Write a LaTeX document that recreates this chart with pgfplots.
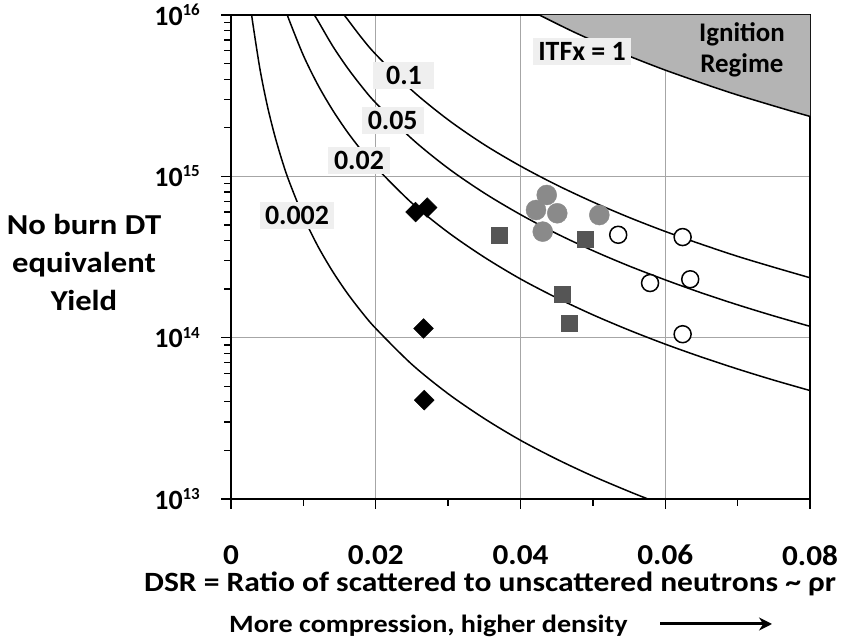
\documentclass[border=0pt]{standalone}
\usepackage{fontspec}
\setmainfont{Carlito}
\newfontfamily\widefont{Carlito}[FakeStretch=1.13]
\newfontfamily\tickfont{Carlito}[FakeStretch=1.08]
\usepackage{pgfplots}
\pgfplotsset{compat=1.18}
\usetikzlibrary{arrows.meta}
\definecolor{gridgray}{HTML}{A6A6A6}
\definecolor{igngray}{HTML}{B4B4B4}
\definecolor{boxgray}{HTML}{EFEFEF}
\definecolor{sqgray}{HTML}{555555}
\definecolor{circgray}{HTML}{8A8A8A}
\newcommand{\fs}[1]{\fontsize{#1}{#1}\selectfont\bfseries}
\newcommand{\ylab}[1]{\fs{28}10\raisebox{9.5bp}{\fs{17}#1}}
\begin{document}
\begin{tikzpicture}[x=1bp,y=1bp]
\path[use as bounding box] (0,0) rectangle (852,640);
\begin{axis}[at={(231bp,141bp)}, anchor=south west, scale only axis,
  width=579bp, height=484bp,
  xmin=0, xmax=0.08, ymode=log, ymin=1e13, ymax=1e16,
  scaled x ticks=false,
  xtick={0,0.02,0.04,0.06,0.08}, xticklabels={0,0.02,0.04,0.06,0.08},
  minor xtick={0.01,0.03,0.05,0.07},
  ytick={1e13,1e14,1e15,1e16}, yticklabels={\ylab{13},\ylab{14},\ylab{15},\ylab{16}},
  xticklabel style={font=\tickfont\fs{29}, inner sep=0pt, yshift=-36bp, anchor=north},
  yticklabel style={inner sep=0pt, xshift=-21bp, anchor=east},
  tick align=outside, xtick pos=bottom, ytick pos=left,
  major tick length=10bp, minor tick length=7bp,
  every tick/.style={black, line width=1.3bp},
  grid=major, major grid style={gridgray, line width=1.3bp},
  axis line style={black, line width=1.8bp},
  clip=true,
]
% ignition region
\addplot[fill=igngray, draw=none] coordinates {(0.0426,1e16) (0.045,8.83e15) (0.0475,7.79e15) (0.05,6.93e15) (0.0525,6.19e15) (0.055,5.56e15) (0.0575,5.02e15) (0.06,4.55e15) (0.0625,4.15e15) (0.065,3.79e15) (0.0675,3.47e15) (0.07,3.19e15) (0.0725,2.95e15) (0.075,2.73e15) (0.0775,2.53e15) (0.08,2.35e15) (0.08,1e16)} -- cycle;
% ITFx contours
\addplot[black, line width=1.5bp, smooth] coordinates {(0.0426,1e16) (0.045,8.83e15) (0.0475,7.79e15) (0.05,6.93e15) (0.0525,6.19e15) (0.055,5.56e15) (0.0575,5.02e15) (0.06,4.55e15) (0.0625,4.15e15) (0.065,3.79e15) (0.0675,3.47e15) (0.07,3.19e15) (0.0725,2.95e15) (0.075,2.73e15) (0.0775,2.53e15) (0.08,2.35e15)};
\addplot[black, line width=1.5bp, smooth] coordinates {(0.0156,1e16) (0.016,9.52e15) (0.018,7.26e15) (0.02,5.70e15) (0.025,3.41e15) (0.03,2.24e15) (0.035,1.57e15) (0.04,1.157e15) (0.045,8.83e14) (0.05,6.93e14) (0.055,5.56e14) (0.06,4.55e14) (0.065,3.79e14) (0.07,3.19e14) (0.075,2.73e14) (0.08,2.35e14)};
\addplot[black, line width=1.5bp, smooth] coordinates {(0.0115,1e16) (0.012,9.22e15) (0.014,6.47e15) (0.016,4.76e15) (0.018,3.63e15) (0.02,2.85e15) (0.025,1.706e15) (0.03,1.121e15) (0.035,7.87e14) (0.04,5.79e14) (0.045,4.41e14) (0.05,3.46e14) (0.055,2.78e14) (0.06,2.28e14) (0.065,1.894e14) (0.07,1.597e14) (0.075,1.363e14) (0.08,1.175e14)};
\addplot[black, line width=1.5bp, smooth] coordinates {(0.0078,1e16) (0.008,9.38e15) (0.01,5.61e15) (0.012,3.69e15) (0.014,2.59e15) (0.016,1.904e15) (0.018,1.452e15) (0.02,1.140e15) (0.025,6.82e14) (0.03,4.49e14) (0.035,3.15e14) (0.04,2.31e14) (0.045,1.765e14) (0.05,1.385e14) (0.055,1.113e14) (0.06,9.11e13) (0.065,7.58e13) (0.07,6.39e13) (0.075,5.45e13) (0.08,4.7e13)};
\addplot[black, line width=1.5bp, smooth] coordinates {(0.00287,1e16) (0.003,8.95e15) (0.004,4.62e15) (0.005,2.76e15) (0.006,1.818e15) (0.007,1.275e15) (0.008,9.38e14) (0.01,5.61e14) (0.012,3.69e14) (0.014,2.59e14) (0.016,1.904e14) (0.018,1.452e14) (0.02,1.140e14) (0.025,6.82e13) (0.03,4.49e13) (0.035,3.15e13) (0.04,2.31e13) (0.045,1.765e13) (0.05,1.385e13) (0.055,1.113e13) (0.0576,1e13)};
% data
\addplot[only marks, mark=square*, mark size=7bp, mark options={rotate=45, fill=black, draw=black}] coordinates {(0.0255,6.0e14) (0.0271,6.4e14) (0.0266,1.14e14) (0.0267,4.1e13)};
\addplot[only marks, mark=square*, mark size=8bp, mark options={fill=sqgray, draw=sqgray}] coordinates {(0.0370,4.34e14) (0.0489,4.1e14) (0.0458,1.87e14) (0.0467,1.22e14)};
\addplot[only marks, mark=*, mark size=10bp, mark options={fill=circgray, draw=circgray}] coordinates {(0.04362,7.66e14) (0.04214,6.18e14) (0.04508,5.9e14) (0.04307,4.54e14) (0.05089,5.75e14)};
\addplot[only marks, mark=*, mark size=8.5bp, mark options={fill=white, draw=black, line width=1.5bp}] coordinates {(0.0535,4.34e14) (0.0624,4.2e14) (0.0579,2.18e14) (0.06345,2.3e14) (0.0624,1.05e14)};
% labels
\node[fill=boxgray, font=\fs{28}, minimum width=61bp, minimum height=27bp, inner sep=0pt] at (axis cs:0.0239,4.19e15) {0.1};
\node[fill=boxgray, font=\fs{28}, minimum width=62bp, minimum height=27bp, inner sep=0pt] at (axis cs:0.02234,2.23e15) {0.05};
\node[fill=boxgray, font=\fs{28}, minimum width=62bp, minimum height=27bp, inner sep=0pt] at (axis cs:0.01769,1.26e15) {0.02};
\node[fill=boxgray, font=\fs{28}, minimum width=74bp, minimum height=27bp, inner sep=0pt] at (axis cs:0.00912,5.75e14) {0.002};
\node[fill=boxgray, font=\fs{28}, minimum width=98bp, minimum height=27bp, inner sep=0pt] at (axis cs:0.0485,5.9e15) {ITFx = 1};
\node[font=\fontsize{27}{31}\selectfont\bfseries, align=center, inner sep=0pt] at (axis cs:0.0706,6.11e15) {Ignition\\Regime};
\end{axis}
\node[font=\widefont\fs{29}, anchor=base, inner sep=0pt] at (84,405) {No burn DT};
\node[font=\widefont\fs{29}, anchor=base, inner sep=0pt] at (84,367) {equivalent};
\node[font=\widefont\fs{29}, anchor=base, inner sep=0pt] at (84,329) {Yield};
\node[font=\widefont\fs{28}, anchor=base west, inner sep=0pt] at (144,48) {DSR = Ratio of scattered to unscattered neutrons \char"007E{} ρr};
\node[font=\widefont\fs{25}, anchor=base west, inner sep=0pt] at (229,7) {More compression, higher density};
\draw[line width=3bp, -{Stealth[length=13bp,width=13bp]}] (660,16) -- (772,16);
\end{tikzpicture}
\end{document}
